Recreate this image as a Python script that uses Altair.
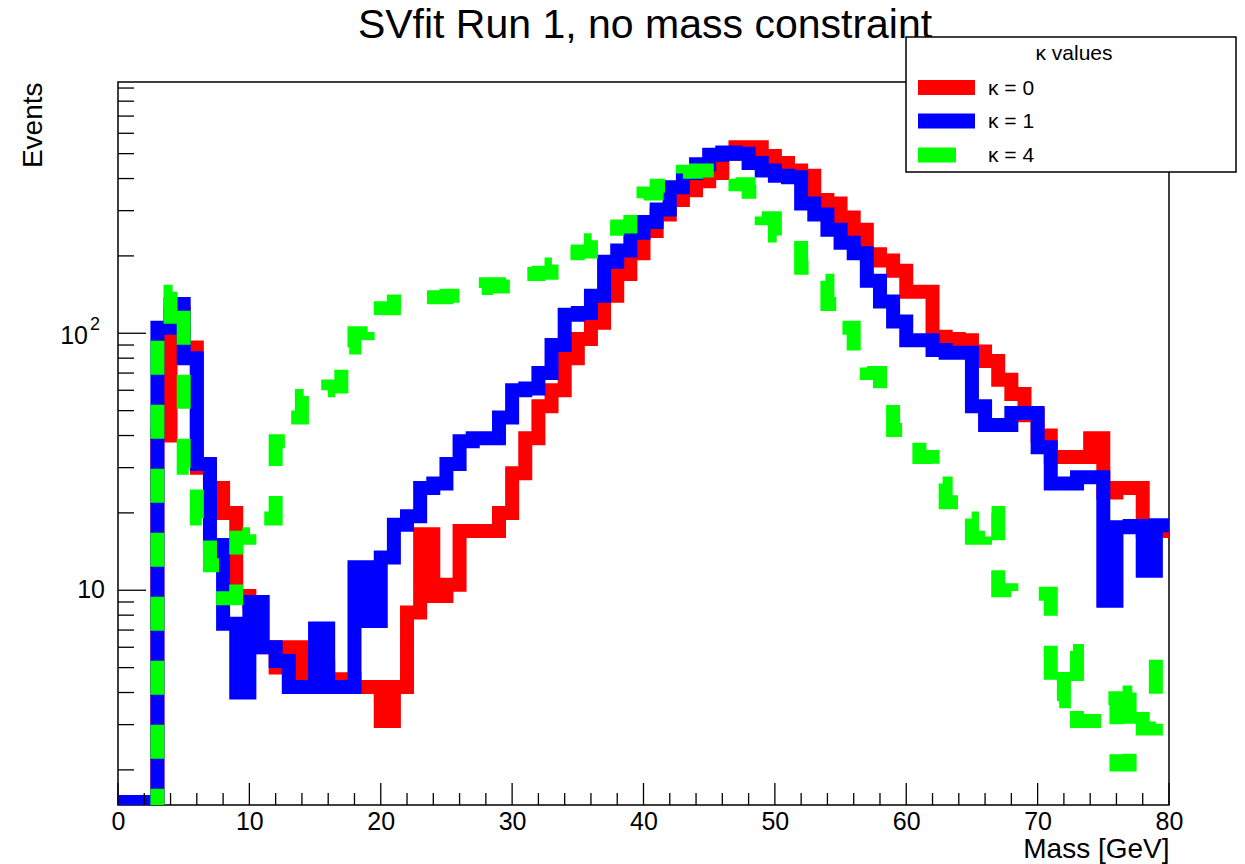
import altair as alt
import pandas as pd

# ---------------- data ----------------
bin_edges = list(range(0, 81))  # 1 GeV bins, 0..80 GeV

# kappa = 0 (red)
kappa0 = [1.5, 1.5, 1.0, 40, 120, 88, 30, 25, 20, 9.5,
          9.0, 6.0, 5.0, 6.0, 4.2, 5.0, 4.2, 4.5, 4.2, 4.2,
          3.1, 4.2, 8.2, 16.5, 9.5, 10.5, 17, 17, 17, 20,
          28.5, 39, 52, 60, 80, 95, 110, 140, 170, 205,
          250, 290, 330, 360, 390, 420, 500, 530, 530, 490,
          460, 430, 410, 330, 320, 282, 253, 203, 192, 175,
          145, 145, 97, 95, 94, 85, 78, 66, 58, 48,
          40, 33, 33, 33, 39, 24, 25, 25, 17, 17]

# kappa = 1 (blue)
kappa1 = [1.5, 1.5, 1.0, 105, 130, 80, 31, 15, 7.4, 4.0,
          9.0, 6.0, 5.3, 4.2, 4.2, 7.1, 4.2, 4.2, 12.3, 7.6,
          13.4, 18, 19.4, 25, 26, 31, 38, 39, 39, 47,
          60, 61, 70, 90, 118, 120, 140, 190, 210, 246,
          271, 303, 370, 420, 455, 495, 505, 500, 460, 430,
          410, 405, 320, 290, 253, 225, 205, 160, 133, 111,
          94, 94, 86, 84, 84, 52, 44, 44, 49, 49,
          36, 26, 26, 27.5, 27.5, 9.1, 17.6, 17.8, 11.9, 17.9]

# kappa = 4 (green, dashed)
kappa4 = [1.0, 1.0, 1.0, 100, 145, 30, 19, 12.5, 9.3, 16,
          16.5, 19, 38, 47, 57, 60, 62, 88, 100, 115,
          125, 133, 135, 138, 138, 140, 148, 150, 155, 152,
          165, 170, 172, 185, 205, 208, 230, 255, 260, 300,
          350, 375, 390, 425, 430, 430, 420, 380, 355, 280,
          240, 235, 180, 160, 130, 105, 85, 70, 55, 42,
          40, 33, 26, 22, 19, 16, 20, 10, 9.7, 9.7,
          9.7, 3.7, 5.8, 3.1, 3.1, 3.8, 2.1, 4.0, 2.9, 5.8]

series_labels = ["κ = 0", "κ = 1", "κ = 4"]
legend_title = ["κ values"]
chart_title = ["SVfit Run 1, no mass constraint"]

x_label_values = [0, 10, 20, 30, 40, 50, 60, 70, 80]
x_major_ticks = [0, 10, 20, 30, 40, 50, 60, 70, 80]
x_minor_ticks = [2, 4, 6, 8, 12, 14, 16, 18, 22, 24, 26, 28, 32, 34, 36, 38,
                 42, 44, 46, 48, 52, 54, 56, 58, 62, 64, 66, 68, 72, 74, 76, 78]
y_label_values = [10, 100]
y_label_base = ["10", "10"]
y_label_exp = ["", "2"]
y_major_ticks = [10, 100]
y_minor_ticks = [2, 3, 4, 5, 6, 7, 8, 9, 20, 30, 40, 50, 60, 70, 80, 90,
                 200, 300, 400, 500, 600, 700, 800, 900]

# ---------------- styling ----------------
W, H = 1051, 723
FONT = "Liberation Sans"
COLORS = ["#ff0000", "#0000ff", "#00ff00"]
LW = 14

x_scale = alt.Scale(domain=[0, 80], nice=False, zero=False)
y_scale = alt.Scale(type="log", domain=[1.46, 950], nice=False)


def hist_frame(values, label):
    vals = list(values) + [values[-1]]
    return pd.DataFrame({"mass": bin_edges, "events": vals, "series": label})


x_axis = alt.Axis(values=x_label_values, format="d", domain=False, ticks=False,
                  grid=False, labelFont=FONT, labelFontSize=25, labelPadding=4,
                  labelColor="black", labelFlush=False, labelOverlap=False,
                  title="Mass [GeV]", titleFont=FONT, titleFontSize=28,
                  titleFontWeight="normal", titleColor="black",
                  titleAnchor="end", titleAlign="right",
                  titleBaseline="alphabetic", titleY=52)

y_axis = alt.Axis(values=y_label_values, labels=False,
                  domain=False, ticks=False, tickSize=0, grid=False,
                  title="Events", titleFont=FONT, titleFontSize=28,
                  titleFontWeight="normal", titleColor="black",
                  titleAnchor="end", titleAngle=270, titleAlign="right",
                  titleBaseline="alphabetic", titleX=-77, titleY=0)

X = lambda f: alt.X(f, scale=x_scale, axis=x_axis)
Y = lambda f: alt.Y(f, scale=y_scale, axis=y_axis)

layers = []

# title as a text mark so that the legend box can sit over its last letters
layers.append(alt.Chart(pd.DataFrame({"txt": chart_title})).mark_text(
    font=FONT, fontSize=41, align="center", baseline="alphabetic", color="black").encode(
    text="txt:N", x=alt.value(527), y=alt.value(-44)))

for i, (vals, label, color) in enumerate(zip([kappa0, kappa1, kappa4], series_labels, COLORS)):
    kw = dict(interpolate="step-after", strokeWidth=LW, color=color, clip=True,
              strokeCap="butt", strokeJoin="miter")
    if i == 2:
        kw["strokeDash"] = [34, 30]
    layers.append(alt.Chart(hist_frame(vals, label)).mark_line(**kw).encode(
        x=X("mass:Q"), y=Y("events:Q")))

# inward tick marks (ROOT style)
rule_kw = dict(color="black", strokeWidth=1.3)
layers.append(alt.Chart(pd.DataFrame({"mass": x_major_ticks})).mark_rule(**rule_kw).encode(
    x=X("mass:Q"), y=alt.value(H), y2=alt.value(H - 22)))
layers.append(alt.Chart(pd.DataFrame({"mass": x_minor_ticks})).mark_rule(**rule_kw).encode(
    x=X("mass:Q"), y=alt.value(H), y2=alt.value(H - 12)))
layers.append(alt.Chart(pd.DataFrame({"events": y_major_ticks})).mark_rule(**rule_kw).encode(
    y=Y("events:Q"), x=alt.value(0), x2=alt.value(28)))
layers.append(alt.Chart(pd.DataFrame({"events": y_minor_ticks})).mark_rule(**rule_kw).encode(
    y=Y("events:Q"), x=alt.value(0), x2=alt.value(16)))

# y tick labels in ROOT power notation: base "10" plus a raised exponent
ylab = pd.DataFrame({"events": y_label_values, "base": y_label_base, "exp": y_label_exp,
                     "has_exp": [e != "" for e in y_label_exp]})
layers.append(alt.Chart(ylab[~ylab.has_exp]).mark_text(
    font=FONT, fontSize=25, align="right", baseline="middle", color="black").encode(
    text="base:N", y=Y("events:Q"), x=alt.value(-13)))
layers.append(alt.Chart(ylab[ylab.has_exp]).mark_text(
    font=FONT, fontSize=25, align="right", baseline="middle", color="black", dy=3).encode(
    text="base:N", y=Y("events:Q"), x=alt.value(-30)))
layers.append(alt.Chart(ylab[ylab.has_exp]).mark_text(
    font=FONT, fontSize=18, align="right", baseline="middle", color="black", dy=-8).encode(
    text="exp:N", y=Y("events:Q"), x=alt.value(-18)))

# legend box (ROOT TLegend look)
one = pd.DataFrame({"k": [0]})
layers.append(alt.Chart(one).mark_rect(fill="white", stroke="black", strokeWidth=1.5).encode(
    x=alt.value(788), x2=alt.value(1118), y=alt.value(-45), y2=alt.value(90)))
layers.append(alt.Chart(pd.DataFrame({"txt": legend_title})).mark_text(
    font=FONT, fontSize=21, align="center", baseline="middle", color="black").encode(
    text="txt:N", x=alt.value(956), y=alt.value(-28)))

entry_y = [5.5, 39, 73]
sample_len = [57, 57, 38]
for label, color, yy, ln in zip(series_labels, COLORS, entry_y, sample_len):
    d = pd.DataFrame({"txt": [label]})
    layers.append(alt.Chart(d).mark_rule(color=color, strokeWidth=15, strokeCap="butt").encode(
        x=alt.value(800), x2=alt.value(800 + ln), y=alt.value(yy)))
    layers.append(alt.Chart(d).mark_text(font=FONT, fontSize=21, align="left",
                                         baseline="middle", color="black").encode(
        text="txt:N", x=alt.value(870), y=alt.value(yy + 1)))

chart = alt.layer(*layers).properties(
    width=W, height=H,
    padding={"left": 118, "top": 82, "right": 76, "bottom": 59},
    autosize=alt.AutoSizeParams(type="none"),
    background="white",
).configure_view(stroke="black", strokeWidth=1.5)

chart.save("out.html", embed_options={"renderer": "svg", "actions": False})
